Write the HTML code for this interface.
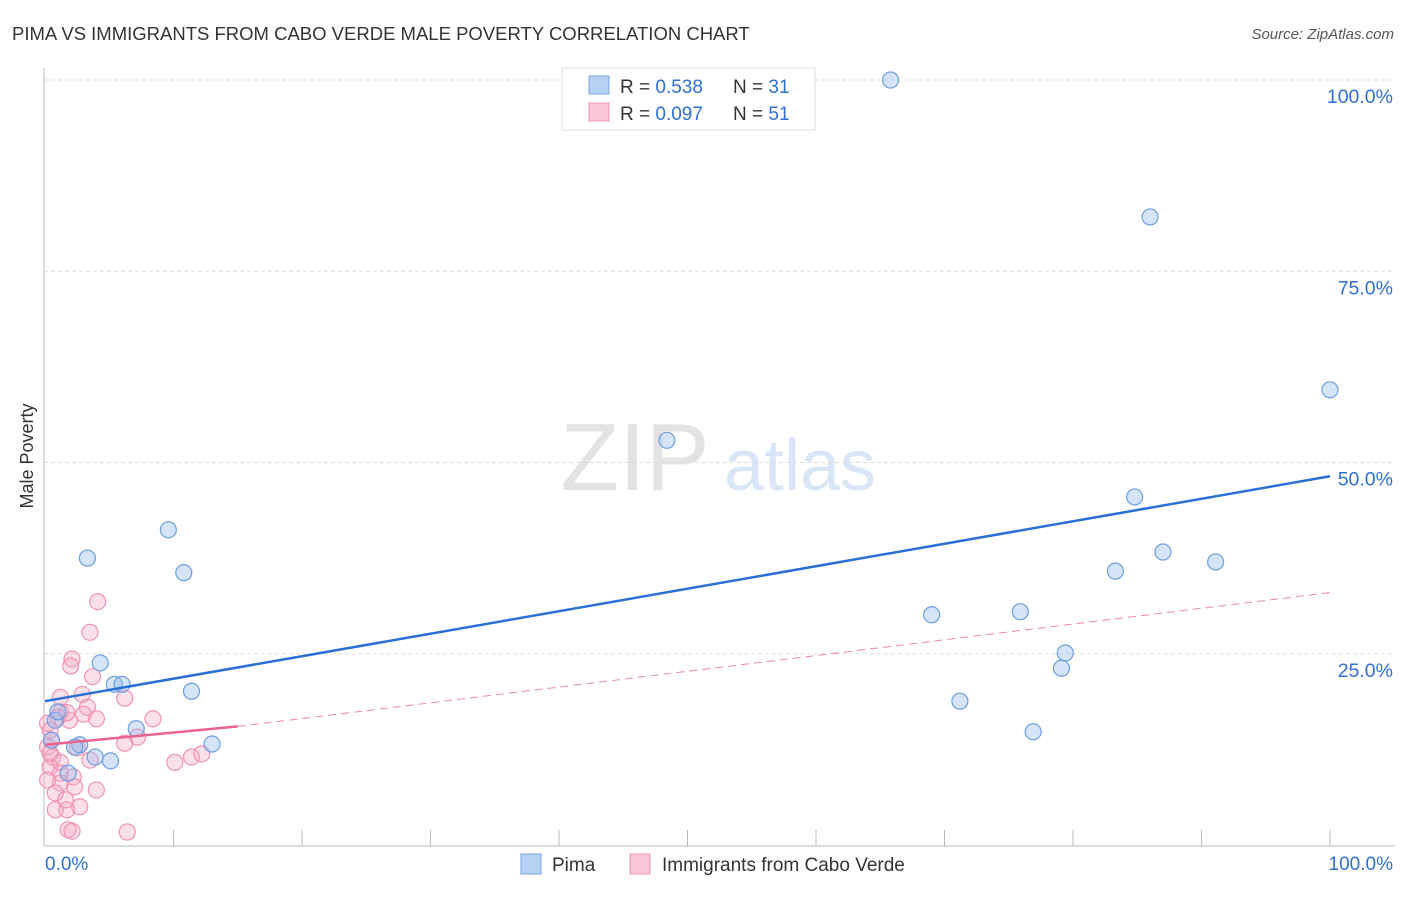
<!DOCTYPE html>
<html><head><meta charset="utf-8"><style>
body{margin:0;background:#fff;font-family:"Liberation Sans",sans-serif}
svg text{font-family:"Liberation Sans",sans-serif}
</style></head><body>
<svg id="c" width="1406" height="892">
<text x="12" y="40" font-size="18.5" fill="#333">PIMA VS IMMIGRANTS FROM CABO VERDE MALE POVERTY CORRELATION CHART</text>
<text x="1394" y="39" font-size="15" fill="#555" font-style="italic" text-anchor="end">Source: ZipAtlas.com</text>
<text x="33" y="456" font-size="18" fill="#333" transform="rotate(-90 33 456)" text-anchor="middle">Male Poverty</text>
<g><text x="635" y="490" font-size="96" fill="#e3e3e3" font-family="Liberation Serif" text-anchor="middle">ZIP</text><text x="800" y="490" font-size="72" fill="#d8e6f7" text-anchor="middle">atlas</text></g>
<g id="grid"></g><g id="pts"></g><g id="lines"></g>
<g>
<rect x="562" y="68" width="253" height="62" fill="#fff" stroke="#ddd"/>
<rect x="589" y="76" width="20" height="18" fill="#b7d1f5" stroke="#7aa6e3"/>
<text x="620" y="93" font-size="19" fill="#333">R = <tspan fill="#2f6fd6">0.538</tspan></text>
<text x="733" y="93" font-size="19" fill="#333">N = <tspan fill="#2f6fd6">31</tspan></text>
<rect x="589" y="103" width="20" height="18" fill="#f9c8d6" stroke="#ee99b4"/>
<text x="620" y="120" font-size="19" fill="#333">R = <tspan fill="#2f6fd6">0.097</tspan></text>
<text x="733" y="120" font-size="19" fill="#333">N = <tspan fill="#2f6fd6">51</tspan></text>
</g>
<g>
<rect x="521" y="854" width="20" height="20" fill="#b7d1f5" stroke="#7aa6e3"/>
<text x="552" y="871" font-size="19" fill="#333">Pima</text>
<rect x="630" y="854" width="20" height="20" fill="#f9c8d6" stroke="#ee99b4"/>
<text x="662" y="871" font-size="19" fill="#333">Immigrants from Cabo Verde</text>
</g>
</svg>
<script>
const yTicks=[25,50,75,100];
const yTickLabels=["25.0%","50.0%","75.0%","100.0%"];
const xTickLabels=["0.0%","100.0%"];
const pimaX=[65.8,86.0,100,48.4,84.8,87.0,91.1,83.3,69.0,75.9,79.4,79.1,71.2,76.9,9.6,3.3,10.8,4.3,5.4,6.0,11.4,7.1,13.0,2.7,2.3,3.9,5.1,1.8,0.8,1.0,0.5];
const pimaY=[100,82.1,59.5,52.9,45.5,38.3,37.0,35.8,30.1,30.5,25.1,23.1,18.8,14.8,41.2,37.5,35.6,23.8,21.0,21.0,20.1,15.2,13.2,13.1,12.8,11.5,11.0,9.4,16.3,17.4,13.7];
const caboX=[4.1,3.5,2.1,2.0,3.7,1.2,2.9,6.2,3.3,3.0,4.0,1.9,8.4,1.2,7.2,6.2,0.4,0.5,2.5,3.5,10.1,11.4,12.2,0.6,0.4,1.2,2.2,2.3,4.0,1.2,0.8,1.6,0.8,1.7,1.8,2.1,6.4,0.2,0.4,0.2,1.0,1.7,0.2,1.2,2.7];
const caboY=[31.8,27.8,24.3,23.4,22.0,19.3,19.7,19.2,18.0,17.1,16.5,16.3,16.5,17.4,14.1,13.3,15.0,13.7,12.7,11.1,10.8,11.5,11.9,11.5,10.2,10.8,8.9,7.6,7.2,8.1,6.8,5.9,4.6,4.6,2.0,1.8,1.7,12.8,12.0,15.9,16.7,17.3,8.5,9.4,5.0];
const pimaTrend=[[0,18.8],[100,48.2]];
const caboTrend=[[0,13.1],[15,15.5],[100,33.0]];
const X=v=>45+v*12.85, Y=v=>845-v*7.65;
const NS="http://www.w3.org/2000/svg";
function mk(t,a,p){const e=document.createElementNS(NS,t);for(const k in a)e.setAttribute(k,a[k]);p.appendChild(e);return e;}
const g=document.getElementById('grid');
const ax=mk('line',{x1:44,y1:68,x2:44,y2:846,stroke:'#bbb'},g);


const bx=mk('line',{x1:44,y1:846,x2:1395,y2:846,stroke:'#bbb'},g);


for(let i=1;i<=10;i++){const t=mk('line',{x1:X(i*10),y1:830,x2:X(i*10),y2:846,stroke:'#bbb'},g);

}
yTicks.forEach((v,i)=>{const l=mk('line',{x1:44,y1:Y(v),x2:1395,y2:Y(v),stroke:'#ddd','stroke-dasharray':'4,3'},g);


const t=mk('text',{x:1393,y:Y(v)+23,'font-size':19.5,fill:'#2f6fd6','text-anchor':'end'},g);t.textContent=yTickLabels[i];

});
xTickLabels.forEach((s,i)=>{const t=mk('text',{x:i?1393:45,y:870,'font-size':19,fill:'#2f6fd6','text-anchor':i?'end':'start'},g);t.textContent=s;

});
const p=document.getElementById('pts');
caboX.forEach((x,i)=>{const c=mk('circle',{cx:X(x),cy:Y(caboY[i]),r:8,fill:'rgba(245,165,192,0.35)',stroke:'#ef93b2','stroke-width':1.2},p);

});
pimaX.forEach((x,i)=>{const c=mk('circle',{cx:X(x),cy:Y(pimaY[i]),r:8,fill:'rgba(150,188,238,0.4)',stroke:'#6d9ee0','stroke-width':1.2},p);

});
const L=document.getElementById('lines');
const b=mk('line',{x1:X(pimaTrend[0][0]),y1:Y(pimaTrend[0][1]),x2:X(pimaTrend[1][0]),y2:Y(pimaTrend[1][1]),stroke:'#2a6fd6','stroke-width':2.5},L);


const c1=mk('line',{x1:X(caboTrend[0][0]),y1:Y(caboTrend[0][1]),x2:X(caboTrend[1][0]),y2:Y(caboTrend[1][1]),stroke:'#e8638f','stroke-width':2.5},L);


const c2=mk('line',{x1:X(caboTrend[1][0]),y1:Y(caboTrend[1][1]),x2:X(caboTrend[2][0]),y2:Y(caboTrend[2][1]),stroke:'#e88aa8','stroke-width':1,'stroke-dasharray':'8,5'},L);


</script>
</body></html>
